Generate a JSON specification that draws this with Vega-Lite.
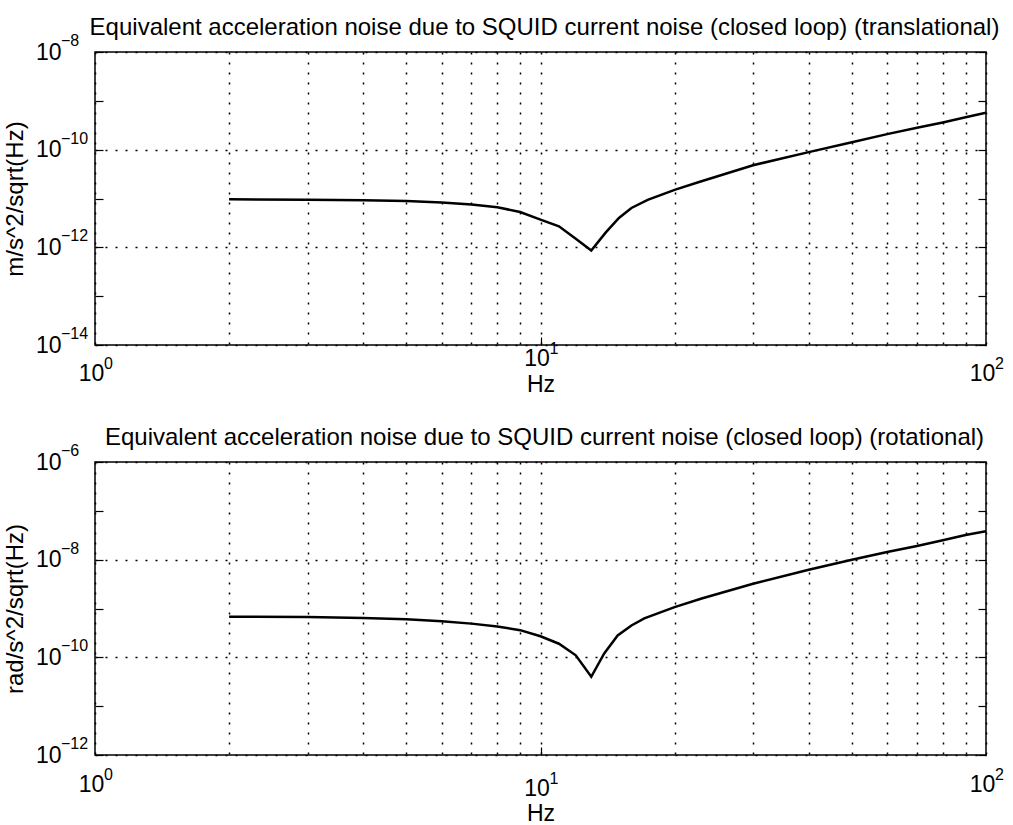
{
  "$schema": "https://vega.github.io/schema/vega-lite/v6.json",
  "background": "white",
  "padding": {"left": 2, "top": 15, "right": 5, "bottom": 2},
  "spacing": 117,
  "bounds": "flush",
  "config": {
    "font": "Liberation Sans",
    "view": {"stroke": "black", "strokeWidth": 1.5},
    "title": {"font": "Liberation Sans", "fontSize": 24, "fontWeight": "normal", "color": "black", "baseline": "alphabetic", "offset": -7, "dx": 4},
    "text": {"font": "Liberation Sans", "color": "black"},
    "axis": {
      "labelFont": "Liberation Sans", "labelFontSize": 23, "labelColor": "black",
      "titleFont": "Liberation Sans", "titleFontSize": 24, "titleFontWeight": "normal", "titleColor": "black",
      "domain": false, "tickColor": "black", "tickWidth": 1.2,
      "gridColor": "black", "gridDash": [2, 8], "gridWidth": 1.5,
      "labelOverlap": false, "labelFlush": false
    }
  },
  "datasets": {
    "trans": [
      {"f": 2, "a": 9.6e-12}, {"f": 3, "a": 9.4e-12}, {"f": 4, "a": 9.2e-12}, {"f": 5, "a": 8.9e-12},
      {"f": 6, "a": 8.3e-12}, {"f": 7, "a": 7.5e-12}, {"f": 8, "a": 6.6e-12}, {"f": 9, "a": 5.3e-12},
      {"f": 10, "a": 3.7e-12}, {"f": 11, "a": 2.7e-12}, {"f": 12, "a": 1.5e-12}, {"f": 13, "a": 8.6e-13},
      {"f": 14, "a": 2.0e-12}, {"f": 15, "a": 4.0e-12}, {"f": 16, "a": 6.4e-12}, {"f": 17.4, "a": 9.4e-12},
      {"f": 20, "a": 1.5e-11}, {"f": 22.6, "a": 2.15e-11}, {"f": 30, "a": 4.8e-11}, {"f": 40, "a": 8.9e-11},
      {"f": 50, "a": 1.42e-10}, {"f": 60, "a": 2.08e-10}, {"f": 70, "a": 2.8e-10}, {"f": 80, "a": 3.6e-10},
      {"f": 90, "a": 4.6e-10}, {"f": 100, "a": 5.7e-10}
    ],
    "rot": [
      {"f": 2, "a": 6.8e-10}, {"f": 3, "a": 6.7e-10}, {"f": 4, "a": 6.4e-10}, {"f": 5, "a": 6.0e-10},
      {"f": 6, "a": 5.5e-10}, {"f": 7, "a": 4.9e-10}, {"f": 8, "a": 4.3e-10}, {"f": 9, "a": 3.6e-10},
      {"f": 10, "a": 2.7e-10}, {"f": 11, "a": 1.9e-10}, {"f": 12, "a": 1.1e-10}, {"f": 13, "a": 4.0e-11},
      {"f": 13.9, "a": 1.2e-10}, {"f": 14.9, "a": 2.8e-10}, {"f": 16, "a": 4.5e-10}, {"f": 17.1, "a": 6.3e-10},
      {"f": 20, "a": 1.07e-9}, {"f": 23, "a": 1.6e-9}, {"f": 30, "a": 3.2e-9}, {"f": 40, "a": 6.2e-9},
      {"f": 50, "a": 1.0e-8}, {"f": 60, "a": 1.44e-8}, {"f": 70, "a": 1.9e-8}, {"f": 80, "a": 2.5e-8},
      {"f": 90, "a": 3.2e-8}, {"f": 100, "a": 3.8e-8}
    ],
    "xexp": [
      {"v": 1, "e": "0"}, {"v": 10, "e": "1"}, {"v": 100, "e": "2"}
    ],
    "yexpTrans": [
      {"v": 1e-14, "e": "−14"}, {"v": 1e-12, "e": "−12"}, {"v": 1e-10, "e": "−10"}, {"v": 1e-8, "e": "−8"}
    ],
    "yexpRot": [
      {"v": 1e-12, "e": "−12"}, {"v": 1e-10, "e": "−10"}, {"v": 1e-8, "e": "−8"}, {"v": 1e-6, "e": "−6"}
    ]
  },
  "vconcat": [
    {
      "width": 891, "height": 293,
      "title": "Equivalent acceleration noise due to SQUID current noise (closed loop) (translational)",
      "layer": [
        {
          "data": {"name": "trans"},
          "mark": {"type": "line", "color": "black", "strokeWidth": 2.5, "clip": true},
          "encoding": {
            "x": {"field": "f", "type": "quantitative",
              "scale": {"type": "log", "domain": [1, 100], "nice": false},
              "axis": {
                "values": [1, 2, 3, 4, 5, 6, 7, 8, 9, 10, 20, 30, 40, 50, 60, 70, 80, 90, 100],
                "labelExpr": "datum.value == 1 || datum.value == 10 || datum.value == 100 ? '10' : ''",
                "grid": true, "tickSize": -8,
                "tickOpacity": {"condition": {"test": "datum.value == 10", "value": 1}, "value": 0},
                "labelBaseline": "middle", "labelOffset": -4,
                "labelPadding": {"condition": {"test": "datum.value == 10", "value": 21}, "value": 36},
                "title": "Hz", "titleFontSize": 23, "titleBaseline": "alphabetic", "titleY": 46
              }
            },
            "y": {"field": "a", "type": "quantitative",
              "scale": {"type": "log", "domain": [1e-14, 1e-8], "nice": false},
              "axis": {
                "values": [1e-14, 1e-13, 1e-12, 1e-11, 1e-10, 1e-9, 1e-8],
                "labelExpr": "round(log(datum.value)/LN10) % 2 == 0 ? '10' : ''",
                "grid": true,
                "gridOpacity": {"condition": {"test": "round(log(datum.value)/LN10) % 2 == 0", "value": 1}, "value": 0},
                "tickSize": -8, "labelPadding": 42,
                "title": "m/s^2/sqrt(Hz)", "titlePadding": 8
              }
            }
          }
        },
        {
          "data": {"name": "trans"},
          "mark": {"type": "line", "opacity": 0},
          "encoding": {
            "x": {"field": "f", "type": "quantitative", "scale": {"type": "log", "domain": [1, 100], "nice": false}},
            "y": {"field": "a", "type": "quantitative",
              "scale": {"type": "log", "domain": [1e-14, 1e-8], "nice": false},
              "axis": {"orient": "right", "values": [1e-14, 1e-13, 1e-12, 1e-11, 1e-10, 1e-9, 1e-8],
                "labels": false, "grid": false, "tickSize": -8, "title": null}
            }
          }
        },
        {
          "data": {"name": "yexpTrans"},
          "mark": {"type": "text", "align": "left", "baseline": "middle", "dx": -34, "dy": -11, "fontSize": 16},
          "encoding": {
            "x": {"datum": 1, "type": "quantitative", "scale": {"type": "log", "domain": [1, 100], "nice": false}},
            "y": {"field": "v", "type": "quantitative", "scale": {"type": "log", "domain": [1e-14, 1e-8], "nice": false}, "axis": null},
            "text": {"field": "e"}
          }
        },
        {
          "data": {"name": "xexp"},
          "transform": [{"filter": "datum.v != 10"}],
          "mark": {"type": "text", "align": "left", "baseline": "middle", "dx": 9, "dy": 19, "fontSize": 16},
          "encoding": {
            "x": {"field": "v", "type": "quantitative", "scale": {"type": "log", "domain": [1, 100], "nice": false}},
            "y": {"datum": 1e-14, "type": "quantitative", "scale": {"type": "log", "domain": [1e-14, 1e-8], "nice": false}, "axis": null},
            "text": {"field": "e"}
          }
        },
        {
          "data": {"name": "xexp"},
          "transform": [{"filter": "datum.v == 10"}],
          "mark": {"type": "text", "align": "left", "baseline": "middle", "dx": 9, "dy": 4, "fontSize": 16},
          "encoding": {
            "x": {"field": "v", "type": "quantitative", "scale": {"type": "log", "domain": [1, 100], "nice": false}},
            "y": {"datum": 1e-14, "type": "quantitative", "scale": {"type": "log", "domain": [1e-14, 1e-8], "nice": false}, "axis": null},
            "text": {"field": "e"}
          }
        }
      ],
      "resolve": {"scale": {"y": "independent"}}
    },
    {
      "width": 891, "height": 293,
      "title": "Equivalent acceleration noise due to SQUID current noise (closed loop) (rotational)",
      "layer": [
        {
          "data": {"name": "rot"},
          "mark": {"type": "line", "color": "black", "strokeWidth": 2.5, "clip": true},
          "encoding": {
            "x": {"field": "f", "type": "quantitative",
              "scale": {"type": "log", "domain": [1, 100], "nice": false},
              "axis": {
                "values": [1, 2, 3, 4, 5, 6, 7, 8, 9, 10, 20, 30, 40, 50, 60, 70, 80, 90, 100],
                "labelExpr": "datum.value == 1 || datum.value == 10 || datum.value == 100 ? '10' : ''",
                "grid": true, "tickSize": -8,
                "tickOpacity": {"condition": {"test": "datum.value == 10", "value": 1}, "value": 0},
                "labelBaseline": "middle", "labelOffset": -4,
                "labelPadding": {"condition": {"test": "datum.value == 10", "value": 41}, "value": 37},
                "title": "Hz", "titleFontSize": 23, "titleBaseline": "alphabetic", "titleY": 65
              }
            },
            "y": {"field": "a", "type": "quantitative",
              "scale": {"type": "log", "domain": [1e-12, 1e-6], "nice": false},
              "axis": {
                "values": [1e-12, 1e-11, 1e-10, 1e-9, 1e-8, 1e-7, 1e-6],
                "labelExpr": "round(log(datum.value)/LN10) % 2 == 0 ? '10' : ''",
                "grid": true,
                "gridOpacity": {"condition": {"test": "round(log(datum.value)/LN10) % 2 == 0", "value": 1}, "value": 0},
                "tickSize": -8, "labelPadding": 42,
                "title": "rad/s^2/sqrt(Hz)", "titlePadding": 8
              }
            }
          }
        },
        {
          "data": {"name": "rot"},
          "mark": {"type": "line", "opacity": 0},
          "encoding": {
            "x": {"field": "f", "type": "quantitative", "scale": {"type": "log", "domain": [1, 100], "nice": false}},
            "y": {"field": "a", "type": "quantitative",
              "scale": {"type": "log", "domain": [1e-12, 1e-6], "nice": false},
              "axis": {"orient": "right", "values": [1e-12, 1e-11, 1e-10, 1e-9, 1e-8, 1e-7, 1e-6],
                "labels": false, "grid": false, "tickSize": -8, "title": null}
            }
          }
        },
        {
          "data": {"name": "yexpRot"},
          "mark": {"type": "text", "align": "left", "baseline": "middle", "dx": -34, "dy": -11, "fontSize": 16},
          "encoding": {
            "x": {"datum": 1, "type": "quantitative", "scale": {"type": "log", "domain": [1, 100], "nice": false}},
            "y": {"field": "v", "type": "quantitative", "scale": {"type": "log", "domain": [1e-12, 1e-6], "nice": false}, "axis": null},
            "text": {"field": "e"}
          }
        },
        {
          "data": {"name": "xexp"},
          "transform": [{"filter": "datum.v != 10"}],
          "mark": {"type": "text", "align": "left", "baseline": "middle", "dx": 9, "dy": 20, "fontSize": 16},
          "encoding": {
            "x": {"field": "v", "type": "quantitative", "scale": {"type": "log", "domain": [1, 100], "nice": false}},
            "y": {"datum": 1e-12, "type": "quantitative", "scale": {"type": "log", "domain": [1e-12, 1e-6], "nice": false}, "axis": null},
            "text": {"field": "e"}
          }
        },
        {
          "data": {"name": "xexp"},
          "transform": [{"filter": "datum.v == 10"}],
          "mark": {"type": "text", "align": "left", "baseline": "middle", "dx": 9, "dy": 24, "fontSize": 16},
          "encoding": {
            "x": {"field": "v", "type": "quantitative", "scale": {"type": "log", "domain": [1, 100], "nice": false}},
            "y": {"datum": 1e-12, "type": "quantitative", "scale": {"type": "log", "domain": [1e-12, 1e-6], "nice": false}, "axis": null},
            "text": {"field": "e"}
          }
        }
      ],
      "resolve": {"scale": {"y": "independent"}}
    }
  ]
}
